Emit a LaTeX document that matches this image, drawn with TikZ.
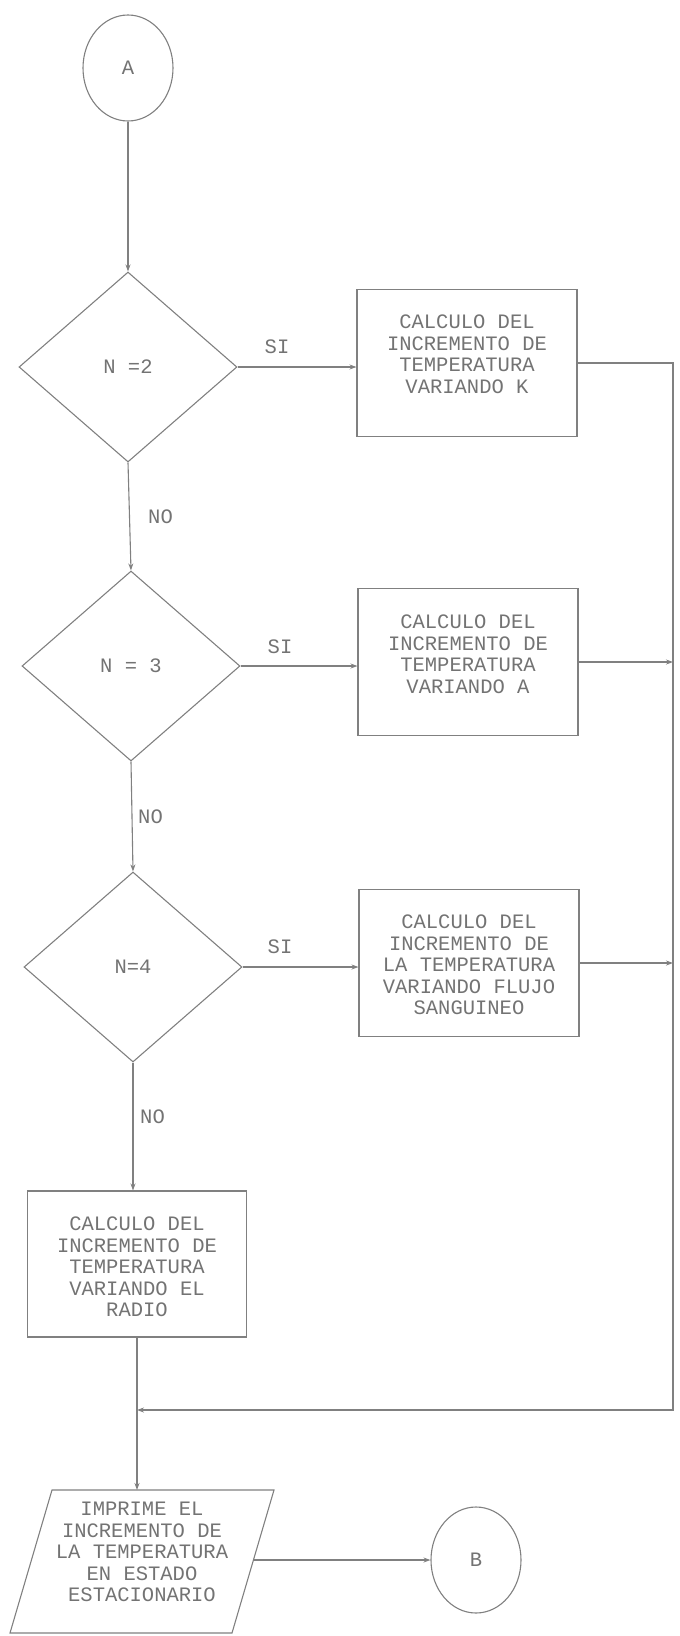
\documentclass[tikz,border=0pt]{standalone}
\usepackage{fontspec}
\setmonofont{Liberation Mono}
\usetikzlibrary{shapes.geometric,arrows.meta}
\begin{document}
\begin{tikzpicture}[x=1pt,y=-1pt,
  ln/.style={draw=black!50, line width=1.1pt},
  arr/.style={ln, -{Stealth[length=7pt,width=5pt]}},
  txt/.style={font=\ttfamily\fontsize{20.5}{21.5}\selectfont, text=black!55, align=center, inner sep=0pt},
  conn/.style={ellipse, ln, minimum width=90pt, minimum height=106pt, txt},
  dec/.style={diamond, ln, minimum width=218pt, minimum height=190pt, inner sep=0pt, txt},
  proc/.style={rectangle, ln, minimum width=220pt, minimum height=147pt, inner sep=0pt}
]
\useasboundingbox (0,0) rectangle (680,1636);

% nodes
\node[conn] (a) at (128,68) {A};
\node[dec] (d1) at (128,367) {N =2};
\node[proc] (b1) at (467,363) {};
\node[txt] (t1) at (467,354) {CALCULO DEL\\INCREMENTO DE\\TEMPERATURA\\VARIANDO K};
\node[dec] (d2) at (131,666) {N = 3};
\node[proc] (b2) at (468,662) {};
\node[txt] (t2) at (468,654) {CALCULO DEL\\INCREMENTO DE\\TEMPERATURA\\VARIANDO A};
\node[dec] (d3) at (133,967) {N=4};
\node[proc] (b3) at (469,963) {};
\node[txt] (t3) at (469,965) {CALCULO DEL\\INCREMENTO DE\\LA TEMPERATURA\\VARIANDO FLUJO\\SANGUINEO};
\node[proc, minimum width=219pt, minimum height=146pt] (b4) at (137,1264) {};
\node[txt] (t4) at (137,1267) {CALCULO DEL\\INCREMENTO DE\\TEMPERATURA\\VARIANDO EL\\RADIO};

% parallelogram (output)
\coordinate (pTL) at (52,1490);
\coordinate (pTR) at (274,1490);
\coordinate (pBR) at (232,1633);
\coordinate (pBL) at (10,1633);
\draw[ln] (pTL) -- (pTR) -- (pBR) -- (pBL) -- cycle;
\node[txt] (t5) at (142,1552) {IMPRIME EL\\INCREMENTO DE\\LA TEMPERATURA\\EN ESTADO\\ESTACIONARIO};
\coordinate (pTop) at (137,1490);
\coordinate (pR) at (253,1560);

\node[conn] (bb) at (476,1560) {B};

\coordinate (rTop) at (673,363);
\coordinate (rBot) at (673,1410);

% connectors
\draw[arr] (a.south) -- (d1.north);
\draw[arr] (d1.east) -- (d1.east -| b1.west);
\draw[arr] (d1.south) -- (d2.north);
\draw[arr] (d2.east) -- (d2.east -| b2.west);
\draw[arr] (d2.south) -- (d3.north);
\draw[arr] (d3.east) -- (d3.east -| b3.west);
\draw[arr] (d3.south) -- (d3.south |- b4.north);
\draw[arr] (b1.east) -- (rTop) -- (rBot) -- (b4.south |- rBot);
\draw[arr] (b2.east) -- (b2.east -| rTop);
\draw[arr] (b3.east) -- (b3.east -| rTop);
\draw[arr] (b4.south) -- (pTop);
\draw[arr] (pR) -- (bb.west);

% labels
\node[txt] (si1) at (277,347) {SI};
\node[txt] (si2) at (280,647) {SI};
\node[txt] (si3) at (280,947) {SI};
\node[txt, anchor=west] (no1) at (148,517) {NO};
\node[txt, anchor=west] (no2) at (138,817) {NO};
\node[txt, anchor=west] (no3) at (140,1117) {NO};
\end{tikzpicture}
\end{document}
